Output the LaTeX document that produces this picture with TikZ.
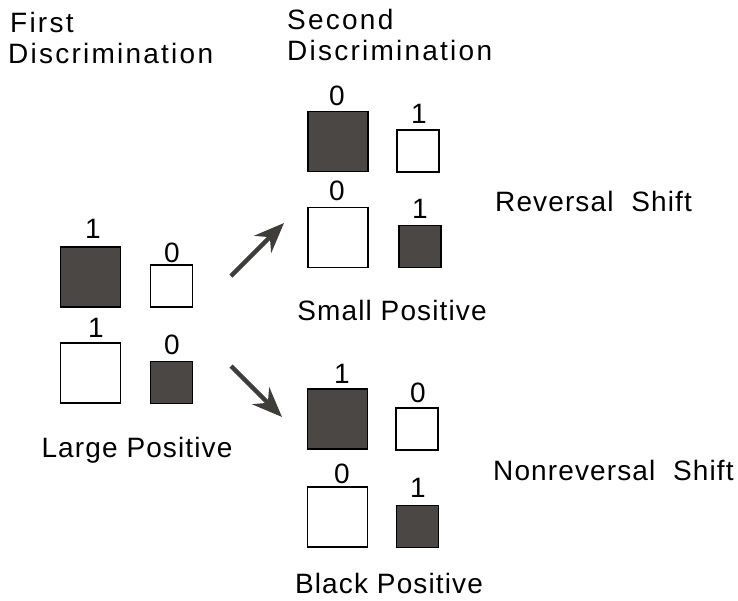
\documentclass[tikz,border=0pt]{standalone}
\usepackage{fontspec}
\setmainfont{Liberation Sans}
\newfontfamily\labfont[LetterSpace=4]{Liberation Sans}
\newfontfamily\ttlfont[LetterSpace=8]{Liberation Sans}
\usetikzlibrary{arrows.meta}
\definecolor{boxfill}{HTML}{4A4744}
\definecolor{arrowcol}{HTML}{3E3D3A}
\begin{document}
\begin{tikzpicture}[x=1pt,y=-1pt,
  sq/.style={draw=black,line width=1.5pt,inner sep=0pt,outer sep=0pt},
  bigsq/.style={sq,minimum width=60pt,minimum height=60pt},
  smallsq/.style={sq,minimum width=42pt,minimum height=42pt},
  dark/.style={fill=boxfill},
  light/.style={fill=white},
  lab/.style={inner sep=0pt,anchor=base,font=\labfont\fontsize{28}{33}\selectfont},
  txt/.style={inner sep=0pt,anchor=base west,font=\labfont\fontsize{28}{33}\selectfont},
  ttl/.style={inner sep=0pt,anchor=base west,font=\ttlfont\fontsize{28}{33}\selectfont},
  bigarrow/.style={draw=arrowcol,line width=4.5pt,
    -{Stealth[length=30pt,width=24pt,inset=10pt,fill=arrowcol]}}]
\useasboundingbox (0,0) rectangle (738,600);
\fill[white] (0,0) rectangle (738,600);

% titles
\node[ttl] (t1a) at (10,32) {First};
\node[ttl] (t1b) at (8,63) {Discrimination};
\node[ttl] (t2a) at (287,29) {Second};
\node[ttl] (t2b) at (287,60) {Discrimination};

% first discrimination
\node[bigsq,dark]  (LBB) at (90.5,277) {};
\node[smallsq,light] (LSW) at (171.5,286) {};
\node[bigsq,light] (LBW) at (90.5,373) {};
\node[smallsq,dark] (LSB) at (171.5,382.5) {};
\node[lab] (lLBB) at (93,238) {1};
\node[lab] (lLSW) at (172,262) {0};
\node[lab] (lLBW) at (96,337) {1};
\node[lab] (lLSB) at (172,354) {0};
\node[lab] (nLP) at (137,457) {Large Positive};

% second discrimination: reversal
\node[bigsq,dark]  (TBB) at (338,141.5) {};
\node[smallsq,light] (TSW) at (418,151) {};
\node[bigsq,light] (TBW) at (338,237.5) {};
\node[smallsq,dark] (TSB) at (420,246.5) {};
\node[lab] (lTBB) at (337,105) {0};
\node[lab] (lTSW) at (419,123) {1};
\node[lab] (lTBW) at (337,200) {0};
\node[lab] (lTSB) at (420,218) {1};
\node[lab] (nSP) at (392,320) {Small Positive};
\node[txt] (nRS) at (495,211) {Reversal\ \ Shift};

% second discrimination: nonreversal
\node[bigsq,dark]  (BBB) at (337.5,419) {};
\node[smallsq,light] (BSW) at (417,429) {};
\node[bigsq,light] (BBW) at (337.5,517) {};
\node[smallsq,dark] (BSB) at (417.5,526.5) {};
\node[lab] (lBBB) at (342,383) {1};
\node[lab] (lBSW) at (418,402) {0};
\node[lab] (lBBW) at (342,483) {0};
\node[lab] (lBSB) at (418,497) {1};
\node[lab] (nBP) at (389,593) {Black Positive};
\node[txt] (nNS) at (493,480) {Nonreversal\ \ Shift};

% arrows
\coordinate (a1s) at (231,276);
\coordinate (a1e) at (284,223);
\coordinate (a2s) at (231,366);
\coordinate (a2e) at (282,417);
\draw[bigarrow] (a1s) -- (a1e);
\draw[bigarrow] (a2s) -- (a2e);
\end{tikzpicture}
\end{document}
